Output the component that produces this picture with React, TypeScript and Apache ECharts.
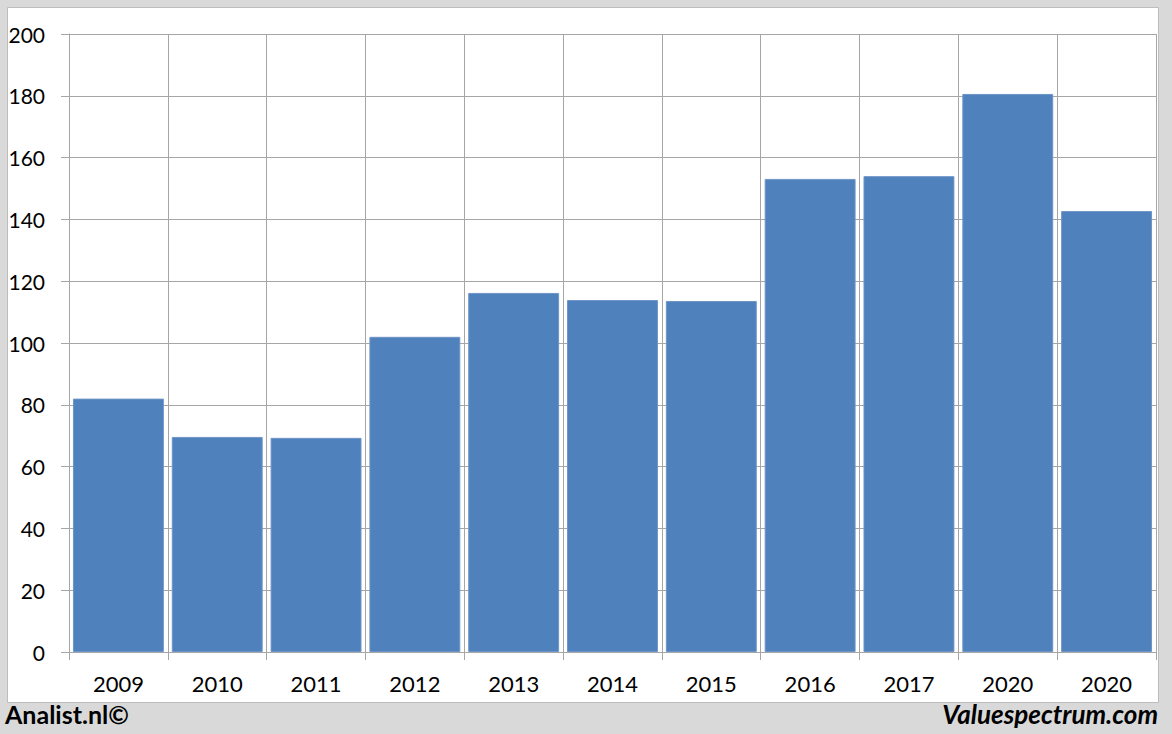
import React, { useEffect, useRef } from "react";
import * as echarts from "echarts";

const categories = ["2009", "2010", "2011", "2012", "2013", "2014", "2015", "2016", "2017", "2020", "2020"];
const values = [82, 69.6, 69.3, 102, 116.2, 113.9, 113.6, 153.1, 154, 180.6, 142.7];
const yTicks = { min: 0, max: 200, interval: 20 };
const footerLeft = "Analist.nl©";
const footerRight = "Valuespectrum.com";

export default function App() {
  const ref = useRef<HTMLDivElement>(null);
  useEffect(() => {
    if (!ref.current) return;
    const chart = echarts.init(ref.current, null, { renderer: "svg" });
    const gridColor = "#a6a6a6";
    chart.setOption({
      animation: false,
      backgroundColor: "#d9d9d9",
      textStyle: { fontFamily: "Lato" },
      graphic: [
        {
          type: "rect",
          z: -10,
          shape: { x: 7.5, y: 7.5, width: 1151, height: 695 },
          style: { fill: "#ffffff", stroke: "#bdbdbd", lineWidth: 1 },
        },
        {
          type: "text",
          left: 5,
          top: 701,
          style: { text: footerLeft, font: "bold 25px Lato", fill: "#000000" },
        },
        {
          type: "text",
          right: 14,
          top: 701,
          style: { text: footerRight, font: "italic bold 26px Lato", fill: "#000000" },
        },
      ],
      grid: { left: 69, right: 16, top: 34, bottom: 82, containLabel: false },
      xAxis: {
        type: "category",
        data: categories,
        boundaryGap: true,
        axisLine: { show: true, lineStyle: { color: gridColor, width: 1 } },
        axisTick: { show: true, length: 8, lineStyle: { color: gridColor } },
        splitLine: { show: true, interval: 0, lineStyle: { color: gridColor, width: 1 } },
        axisLabel: { color: "#000000", fontSize: 22, margin: 20, fontFamily: "Lato", interval: 0 },
      },
      yAxis: {
        type: "value",
        min: yTicks.min,
        max: yTicks.max,
        interval: yTicks.interval,
        axisLine: { show: true, lineStyle: { color: gridColor, width: 1 } },
        axisTick: { show: true, length: 8, lineStyle: { color: gridColor } },
        splitLine: { show: true, lineStyle: { color: gridColor, width: 1 } },
        axisLabel: { color: "#000000", fontSize: 21, margin: 24, fontFamily: "Lato" },
      },
      series: [
        {
          type: "bar",
          data: values,
          barCategoryGap: "8%",
          itemStyle: { color: "#4f81bd", borderColor: "#6f95c8", borderWidth: 1 },
        },
      ],
    });
    return () => chart.dispose();
  }, []);
  return (
    <div
      ref={ref}
      style={{ position: "fixed", left: 0, top: 0, width: 1172, height: 734 }}
    />
  );
}
